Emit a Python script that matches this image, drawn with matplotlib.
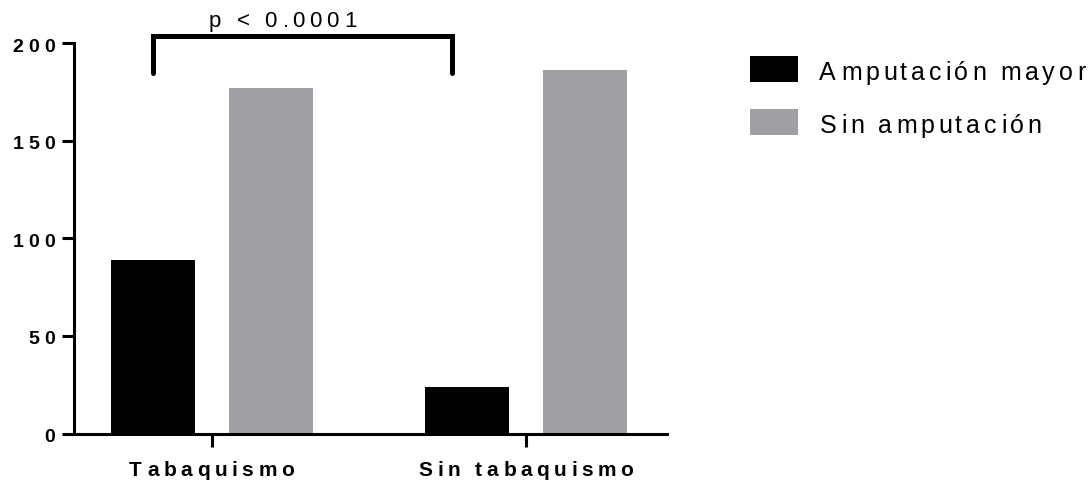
import matplotlib
matplotlib.use('Agg')
import matplotlib.pyplot as plt
import numpy as np
from matplotlib.font_manager import FontProperties, findfont
from matplotlib.ft2font import FT2Font
from matplotlib.transforms import offset_copy, blended_transform_factory, Affine2D
from matplotlib.patches import Rectangle

# Data
categories = ['Tabaquismo', 'Sin tabaquismo']
series_names = ['Amputación mayor', 'Sin amputación']
amputacion_mayor = [89, 24]
sin_amputacion = [177, 186]
y_ticks = [0, 50, 100, 150, 200]
y_tick_labels = ['0', '50', '100', '150', '200']
p_label = 'p < 0.0001'

FAMILY = 'Liberation Sans'
colors = ['#000000', '#a09fa4']
PX = 72 / 100  # points per pixel at 100 dpi

fig = plt.figure(figsize=(10.92, 4.88), dpi=100)
ax = fig.add_axes([74 / 1092, (488 - 433.5) / 488, (667 - 74) / 1092, (433.5 - 43) / 488])


def tracked_text(x, y, s, transform, size, weight='normal', tracking=0.0,
                 ha='left', dx=0.0, dy=0.0, color='black'):
    """Draw text with extra letter spacing (tracking, in points)."""
    fp = FontProperties(family=FAMILY, weight=weight, size=size)
    font = FT2Font(findfont(fp))
    font.set_size(size, 72)
    advances, bearings = [], []
    for ch in s:
        g = font.load_char(ord(ch))
        advances.append(g.linearHoriAdvance / 65536)
        bearings.append(g.horiBearingX / 64)
    total = sum(advances) + tracking * (len(s) - 1)
    pen = {'left': 0.0, 'center': -total / 2, 'right': -total}[ha]
    for ch, adv, lsb in zip(s, advances, bearings):
        if ch != ' ':
            tr = offset_copy(transform, fig=fig, x=dx + pen + lsb, y=dy, units='points')
            fig.text(x, y, ch, transform=tr, fontproperties=fp,
                     ha='left', va='baseline', color=color)
        pen += adv + tracking


# Bars
x = np.arange(len(categories))
offset, width = 0.188, 0.268
ax.bar(x - offset, amputacion_mayor, width, color=colors[0], linewidth=0)
ax.bar(x + offset, sin_amputacion, width, color=colors[1], linewidth=0)

ax.set_xlim(-0.4395, 1.449)
ax.set_ylim(0, 200)

for side in ('top', 'right'):
    ax.spines[side].set_visible(False)
for side in ('left', 'bottom'):
    ax.spines[side].set_linewidth(2.2)
    ax.spines[side].set_capstyle('projecting')

ax.set_yticks(y_ticks)
ax.set_yticklabels([])
ax.set_xticks(x)
ax.set_xticklabels([])
ax.tick_params(axis='y', length=8.6, width=2.2, direction='out')
ax.tick_params(axis='x', length=9.4, width=2.2, direction='out')

# Tick labels with letter spacing
ytrans = blended_transform_factory(ax.transAxes, ax.transData)
for v, lab in zip(y_ticks, y_tick_labels):
    tracked_text(0, v, lab, ytrans, size=14, weight='bold', tracking=3.6,
                 ha='right', dx=-20 * PX, dy=-8.5 * PX)

xtrans = blended_transform_factory(ax.transData, ax.transAxes)
for xi, lab in zip(x, categories):
    tracked_text(xi, 0, lab, xtrans, size=15, weight='bold', tracking=3.3,
                 ha='center', dx=-1 * PX, dy=-42.5 * PX)

# Significance bracket
ax.plot([-0.188, -0.188, 0.763, 0.763], [184.6, 203.7, 203.7, 184.6],
        color='black', lw=3.6, solid_capstyle='round', solid_joinstyle='miter',
        clip_on=False)
tracked_text(0.22, 208.3, p_label, ax.transData, size=16, weight='normal',
             tracking=3.3, ha='center')

# Legend
pix = Affine2D().scale(1 / 1092, -1 / 488).translate(0, 1) + fig.transFigure
legend_rows = [(56, 80), (109, 133)]
for name, col, (top, base) in zip(series_names, colors, legend_rows):
    fig.add_artist(Rectangle((750, top), 48, 26, transform=pix,
                             facecolor=col, edgecolor='none'))
    tracked_text(819, base, name, pix, size=18, weight='normal', tracking=2.7)

fig.savefig('out.png', dpi=100)
